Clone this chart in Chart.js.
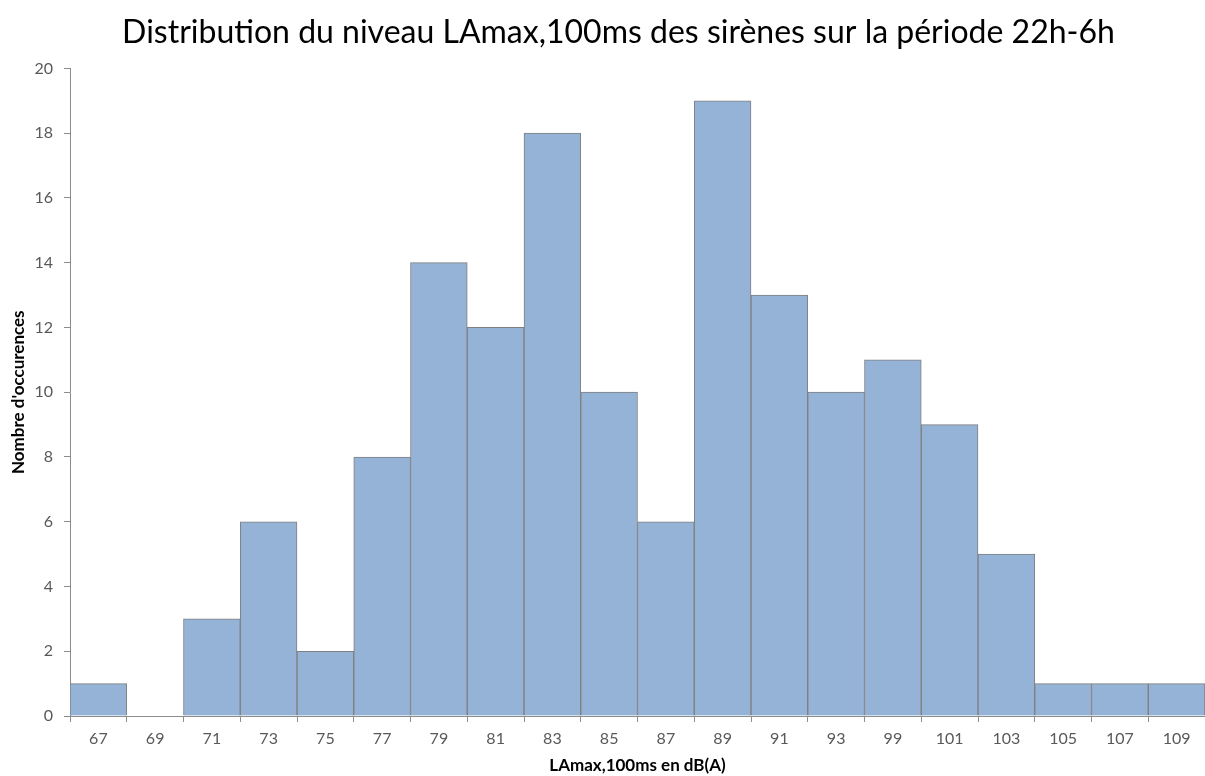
<!DOCTYPE html>
<html>
<head>
<meta charset="utf-8">
<script src="https://cdn.jsdelivr.net/npm/chart.js@4"></script>
<style>
  html, body { margin: 0; padding: 0; background: #fff; }
  #wrap { width: 1205px; height: 776px; }
</style>
</head>
<body>
<div id="wrap"><canvas id="histo"></canvas></div>
<script>
// data
const levels = ["67", "69", "71", "73", "75", "77", "79", "81", "83", "85",
                "87", "89", "91", "93", "99", "101", "103", "105", "107", "109"];
const occurrences = [1, 0, 3, 6, 2, 8, 14, 12, 18, 10, 6, 19, 13, 10, 11, 9, 5, 1, 1, 1];
const yTicks = [0, 2, 4, 6, 8, 10, 12, 14, 16, 18, 20];

const axisGrey = "#8c8c8c";
const labelGrey = "#595959";
const font = "Lato, 'Open Sans', sans-serif";

// title in the original sits a bit right of the page centre
const shiftTitle = {
  id: "shiftTitle",
  afterLayout(chart) {
    if (chart.titleBlock) chart.titleBlock.left = 32;
  }
};

new Chart(document.getElementById("histo"), {
  type: "bar",
  data: {
    labels: levels,
    datasets: [{
      label: "Occurrences",
      data: occurrences,
      backgroundColor: "#95b3d7",
      borderColor: "#7f7f7f",
      borderWidth: 1,
      categoryPercentage: 1,
      barPercentage: 1
    }]
  },
  plugins: [shiftTitle],
  options: {
    responsive: true,
    maintainAspectRatio: false,
    animation: false,
    layout: { padding: 0 },
    plugins: {
      legend: { display: false },
      tooltip: { enabled: false },
      title: {
        display: true,
        text: "Distribution du niveau LAmax,100ms des sirènes sur la période 22h-6h",
        color: "#000",
        font: { family: font, size: 32, weight: "normal" },
        padding: { top: 13, bottom: 17 }
      }
    },
    scales: {
      x: {
        grid: {
          offset: true,
          drawOnChartArea: false,
          drawTicks: true,
          tickLength: 6,
          color: axisGrey
        },
        border: { display: true, color: axisGrey, width: 1 },
        ticks: {
          color: labelGrey,
          font: { family: font, size: 16 },
          padding: 7,
          maxRotation: 0,
          autoSkip: false
        },
        title: {
          display: true,
          text: "LAmax,100ms en dB(A)",
          color: "#000",
          font: { family: font, size: 17, weight: "bold" },
          padding: { top: 2, bottom: 0 }
        },
        afterFit: (scale) => { scale.height = 60; }
      },
      y: {
        min: 0,
        max: 20,
        afterBuildTicks: (scale) => { scale.ticks = yTicks.map(v => ({ value: v })); },
        grid: {
          drawOnChartArea: false,
          drawTicks: true,
          tickLength: 6,
          color: axisGrey
        },
        border: { display: true, color: axisGrey, width: 1 },
        ticks: {
          color: labelGrey,
          font: { family: font, size: 16 },
          padding: 11
        },
        title: {
          display: true,
          text: "Nombre d'occurences",
          color: "#000",
          font: { family: font, size: 17, weight: "bold" },
          padding: { top: 8, bottom: 0 }
        },
        afterFit: (scale) => { scale.width = 70; }
      }
    }
  }
});
</script>
</body>
</html>
